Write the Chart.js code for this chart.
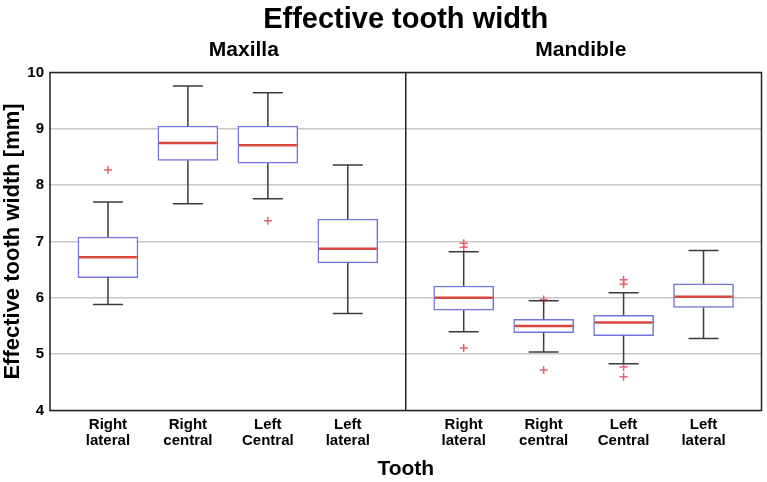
<!DOCTYPE html>
<html>
<head>
<meta charset="utf-8">
<script src="https://cdn.jsdelivr.net/npm/chart.js@4/dist/chart.umd.min.js"></script>
<style>
  html, body { margin: 0; padding: 0; background: #fff; }
  #wrap { width: 767px; height: 482px; }
</style>
</head>
<body>
<div id="wrap"><canvas id="teeth"></canvas></div>
<script>
// data
const panels = ['Maxilla', 'Mandible'];
const teeth = [['Right', 'lateral'], ['Right', 'central'], ['Left', 'Central'], ['Left', 'lateral']];
const yTicks = [4, 5, 6, 7, 8, 9, 10];

// one entry per box: maxilla first, then mandible
const whiskerLow  = [5.88, 7.67, 7.76, 5.72,   5.40, 5.04, 4.83, 5.28];
const q1          = [6.36, 8.44, 8.39, 6.62,   5.78, 5.38, 5.33, 5.83];
const median      = [6.72, 8.75, 8.71, 6.87,   6.00, 5.50, 5.56, 6.02];
const q3          = [7.08, 9.05, 9.05, 7.40,   6.21, 5.62, 5.69, 6.25];
const whiskerHigh = [7.70, 9.76, 9.64, 8.36,   6.82, 5.95, 6.09, 6.84];
const outliers = [[8.27], [], [7.37], [],   [5.11, 6.90, 6.97], [4.72, 5.97], [4.77, 4.60, 6.24, 6.32], []];

// layout on the x axis (in box slots)
const PANEL = 4.45, FIRST = 0.725;
const xOf = i => Math.floor(i / 4) * PANEL + FIRST + (i % 4);
const panelLabelX = [2.425, 6.64];

const boxData = q1.map((v, i) => ({x: xOf(i), y: [v, q3[i]]}));
const outData = [];
outliers.forEach((list, i) => list.forEach(v => outData.push({x: xOf(i), y: v})));

const FONT = '"Liberation Sans", Arial, sans-serif';

const boxParts = {
    id: 'boxParts',
    afterDatasetsDraw(chart) {
        const {ctx, scales: {x, y}} = chart;
        ctx.save();
        for (let i = 0; i < q1.length; i++) {
            const cx = x.getPixelForValue(xOf(i));
            // whiskers
            ctx.strokeStyle = '#3c3c3c';
            ctx.lineWidth = 1.5;
            ctx.beginPath();
            ctx.moveTo(cx, y.getPixelForValue(q3[i]));
            ctx.lineTo(cx, y.getPixelForValue(whiskerHigh[i]));
            ctx.moveTo(cx, y.getPixelForValue(q1[i]));
            ctx.lineTo(cx, y.getPixelForValue(whiskerLow[i]));
            [whiskerHigh[i], whiskerLow[i]].forEach(v => {
                const py = y.getPixelForValue(v);
                ctx.moveTo(cx - 15, py);
                ctx.lineTo(cx + 15, py);
            });
            ctx.stroke();
            // median
            ctx.strokeStyle = '#d9453f';
            ctx.lineWidth = 2.5;
            ctx.beginPath();
            const my = y.getPixelForValue(median[i]);
            ctx.moveTo(cx - 29, my);
            ctx.lineTo(cx + 29, my);
            ctx.stroke();
        }
        ctx.restore();
    },
    afterDraw(chart) {
        const {ctx, chartArea: a, scales: {x}} = chart;
        ctx.save();
        // frame and panel divider
        ctx.strokeStyle = '#222';
        ctx.lineWidth = 1.5;
        ctx.strokeRect(a.left, a.top, a.right - a.left, a.bottom - a.top);
        const dx = x.getPixelForValue(PANEL);
        ctx.beginPath();
        ctx.moveTo(dx, a.top);
        ctx.lineTo(dx, a.bottom);
        ctx.stroke();
        // panel names
        ctx.fillStyle = '#000';
        ctx.font = 'bold 21px ' + FONT;
        ctx.textAlign = 'center';
        ctx.textBaseline = 'middle';
        panels.forEach((p, k) => {
            ctx.fillText(p, x.getPixelForValue(panelLabelX[k]), 50);
        });
        ctx.restore();
    }
};

new Chart(document.getElementById('teeth'), {
    data: {
        datasets: [
            {
                type: 'bar',
                data: boxData,
                backgroundColor: '#ffffff',
                borderColor: '#7474e0',
                borderWidth: 1.5,
                borderSkipped: false,
                barThickness: 60,
                order: 2
            },
            {
                type: 'scatter',
                data: outData,
                pointStyle: 'cross',
                radius: 4,
                borderColor: '#e8606c',
                borderWidth: 1.5,
                order: 1
            }
        ]
    },
    options: {
        responsive: true,
        maintainAspectRatio: false,
        animation: false,
        layout: {padding: {left: 0, right: 5, top: 0, bottom: 0}},
        plugins: {
            legend: {display: false},
            tooltip: {enabled: false},
            title: {
                display: true,
                fullSize: false,
                text: 'Effective tooth width',
                color: '#000',
                font: {family: FONT, size: 29, weight: 'bold', lineHeight: 1.2},
                padding: {top: 3, bottom: 34.7}
            }
        },
        scales: {
            x: {
                type: 'linear',
                offset: false,
                min: 0,
                max: PANEL * 2,
                grid: {display: false, drawTicks: false},
                border: {display: false},
                afterBuildTicks: s => { s.ticks = q1.map((v, i) => ({value: xOf(i)})); },
                afterFit: s => { s.height = 71.5; },
                ticks: {
                    autoSkip: false,
                    maxRotation: 0,
                    color: '#000',
                    padding: 6,
                    font: {family: FONT, size: 15, weight: 'bold', lineHeight: 1.07},
                    callback: (v, i) => teeth[i % 4]
                },
                title: {
                    display: true,
                    text: 'Tooth',
                    color: '#000',
                    font: {family: FONT, size: 21, weight: 'bold'},
                    padding: {top: 0, bottom: 0}
                }
            },
            y: {
                min: yTicks[0],
                max: yTicks[yTicks.length - 1],
                afterBuildTicks: s => { s.ticks = yTicks.map(v => ({value: v})); },
                afterFit: s => { s.width = 50; },
                grid: {color: '#c8c8c8', lineWidth: 1.5, drawTicks: false},
                border: {display: false},
                ticks: {
                    color: '#000',
                    padding: 6,
                    font: {family: FONT, size: 15, weight: 'bold'}
                },
                title: {
                    display: true,
                    text: 'Effective tooth width [mm]',
                    color: '#000',
                    font: {family: FONT, size: 22, weight: 'bold'},
                    padding: {top: 0, bottom: 0}
                }
            }
        }
    },
    plugins: [boxParts]
});
</script>
</body>
</html>
